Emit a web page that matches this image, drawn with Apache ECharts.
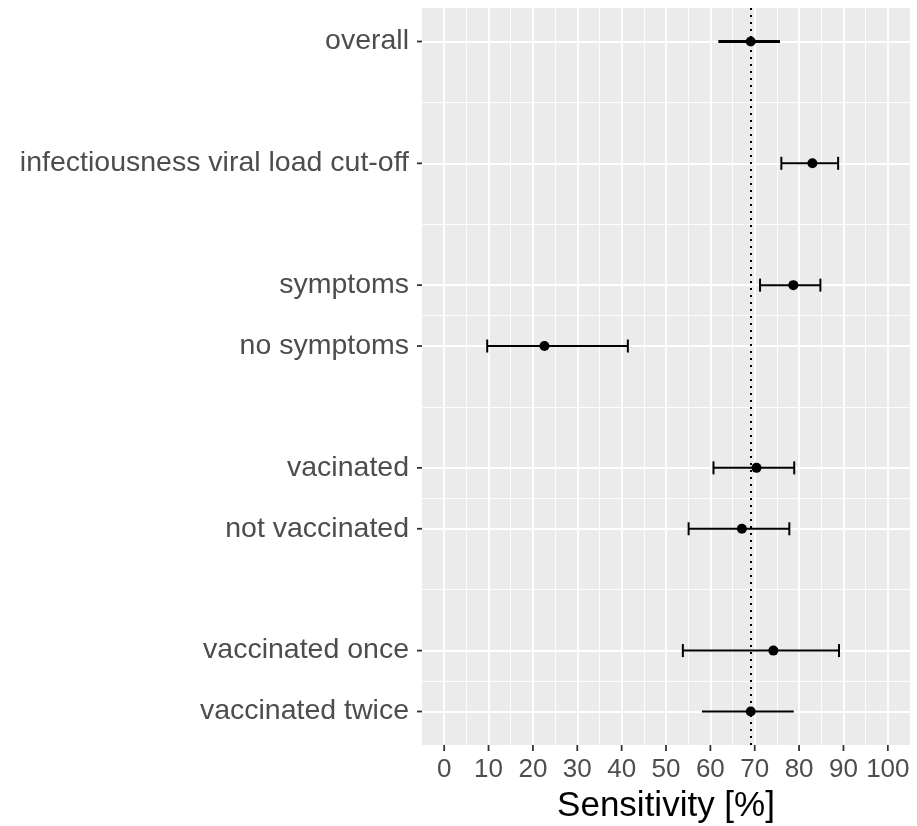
<!DOCTYPE html>
<html>
<head>
<meta charset="utf-8">
<script src="https://cdn.jsdelivr.net/npm/echarts@6/dist/echarts.min.js"></script>
<style>
  html, body { margin: 0; padding: 0; background: #fff; }
  #chart { width: 917px; height: 826px; }
</style>
</head>
<body>
<div id="chart"></div>
<script>
// rows, top to bottom, with their position on the y scale (gaps between groups)
const categories = ['overall', 'infectiousness viral load cut-off', 'symptoms', 'no symptoms',
  'vacinated', 'not vaccinated', 'vaccinated once', 'vaccinated twice']
const yPos = [11, 9, 7, 6, 4, 3, 1, 0]
const estimate = [69.1, 83.0, 78.7, 22.6, 70.4, 67.1, 74.2, 69.1]
const lower = [61.8, 76.0, 71.2, 9.7, 60.7, 55.1, 53.8, 58.1]
const upper = [75.7, 88.8, 84.8, 41.4, 78.9, 77.8, 89.0, 78.8]
const refLine = 69
const xTicks = [0, 10, 20, 30, 40, 50, 60, 70, 80, 90, 100]
const xMin = -5, xMax = 105
const yMin = -0.55, yMax = 11.55

// rows drawn without whisker caps
const noCaps = ['overall', 'vaccinated twice']
const thickRows = ['overall']

// gridlines: major at breaks, minor halfway between them (ggplot style)
const xMinor = xTicks.slice(1).map((v, i) => (v + xTicks[i]) / 2)
const ySorted = yPos.slice().sort((a, b) => a - b)
const yMinor = ySorted.slice(1).map((v, i) => (v + ySorted[i]) / 2)

const gridLines = [
  ...xTicks.map(v => ({ xAxis: v, lineStyle: { width: 1.8 } })),
  ...xMinor.map(v => ({ xAxis: v, lineStyle: { width: 0.9 } })),
  ...yPos.map(v => ({ yAxis: v, lineStyle: { width: 1.8 } })),
  ...yMinor.map(v => ({ yAxis: v, lineStyle: { width: 0.9 } }))
]

// tick marks outside the panel: [x, y, isXAxisTick]
const tickData = [
  ...xTicks.map(v => [v, yMin, 1]),
  ...yPos.map(v => [xMin, v, 0])
]

const chart = echarts.init(document.getElementById('chart'))

const option = {
  animation: false,
  grid: {
    left: 422, right: 7, top: 8, bottom: 81,
    outerBoundsMode: 'none',
    show: true, backgroundColor: '#EBEBEB', borderWidth: 0
  },
  xAxis: {
    type: 'value',
    min: xMin, max: xMax,
    name: 'Sensitivity [%]',
    nameLocation: 'middle',
    nameGap: 44,
    nameTextStyle: { fontFamily: 'Liberation Sans', fontSize: 35, color: '#000' },
    axisLine: { show: false },
    splitLine: { show: false },
    axisTick: { show: false },
    axisLabel: {
      customValues: xTicks,
      fontFamily: 'Liberation Sans', fontSize: 26, color: '#4D4D4D', margin: 12
    }
  },
  yAxis: {
    type: 'value',
    min: yMin, max: yMax,
    axisLine: { show: false },
    splitLine: { show: false },
    axisTick: { show: false },
    axisLabel: {
      customValues: yPos,
      formatter: v => categories[yPos.indexOf(v)] || '',
      fontFamily: 'Liberation Sans', fontSize: 28.5, color: '#4D4D4D', margin: 13
    }
  },
  series: [
    {
      // background gridlines
      type: 'line',
      data: [],
      silent: true,
      markLine: {
        silent: true,
        z: 1,
        symbol: 'none',
        label: { show: false },
        lineStyle: { color: '#fff', type: 'solid' },
        data: gridLines
      }
    },
    {
      // dotted reference line
      type: 'line',
      data: [],
      silent: true,
      markLine: {
        silent: true,
        z: 2,
        symbol: 'none',
        label: { show: false },
        lineStyle: { color: '#000', width: 2, type: [2, 5] },
        data: [{ xAxis: refLine }]
      }
    },
    {
      // axis ticks
      type: 'custom',
      silent: true,
      clip: false,
      data: tickData,
      renderItem: (params, api) => {
        const p = api.coord([api.value(0), api.value(1)])
        const isX = api.value(2) === 1
        const shape = isX
          ? { x1: p[0], y1: p[1], x2: p[0], y2: p[1] + 6 }
          : { x1: p[0] - 5, y1: p[1], x2: p[0], y2: p[1] }
        return { type: 'line', shape, style: { stroke: '#333', lineWidth: 1.8 } }
      },
      z: 5
    },
    {
      type: 'custom',
      data: categories.map((c, i) => [lower[i], upper[i], yPos[i], i]),
      encode: { x: [0, 1], y: 2 },
      renderItem: (params, api) => {
        const i = api.value(3)
        const name = categories[i]
        const y = api.value(2)
        const a = api.coord([api.value(0), y])
        const b = api.coord([api.value(1), y])
        const lw = thickRows.includes(name) ? 3 : 2
        const style = () => ({ stroke: '#000', lineWidth: lw })
        const children = [
          { type: 'line', shape: { x1: a[0], y1: a[1], x2: b[0], y2: b[1] }, style: style() }
        ]
        if (!noCaps.includes(name)) {
          const h = 6.5
          children.push(
            { type: 'line', shape: { x1: a[0], y1: a[1] - h, x2: a[0], y2: a[1] + h }, style: style() },
            { type: 'line', shape: { x1: b[0], y1: b[1] - h, x2: b[0], y2: b[1] + h }, style: style() }
          )
        }
        return { type: 'group', children }
      },
      z: 10
    },
    {
      type: 'scatter',
      data: estimate.map((v, i) => [v, yPos[i]]),
      symbolSize: 10,
      itemStyle: { color: '#000', opacity: 1 },
      z: 11
    }
  ]
}

chart.setOption(option)
</script>
</body>
</html>
